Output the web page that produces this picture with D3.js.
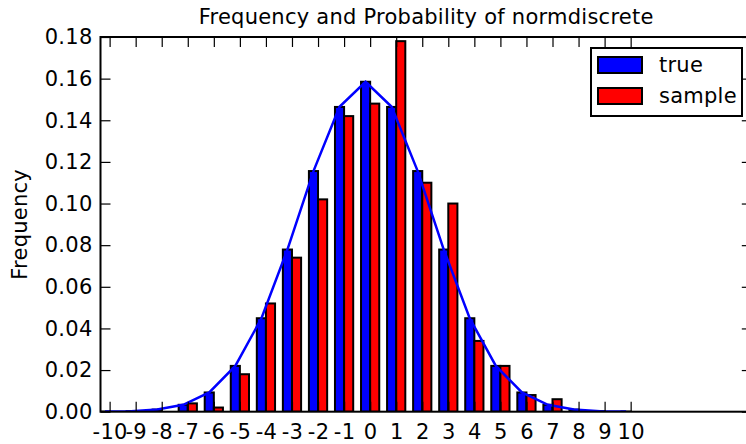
<!DOCTYPE html>
<html>
<head>
<meta charset="utf-8">
<script src="https://cdn.jsdelivr.net/npm/d3@7"></script>
<style>
  body { margin: 0; background: #fff; }
  svg { display: block; }
</style>
</head>
<body>
<div id="my_dataviz"></div>
<script>
// integer support points of the distribution
var grid = [-10, -9, -8, -7, -6, -5, -4, -3, -2, -1, 0, 1, 2, 3, 4, 5, 6, 7, 8, 9, 10];

// true probabilities of normdiscrete
var trueFreq = [0.000059, 0.000265, 0.00101, 0.00331, 0.00924, 0.0220, 0.0449, 0.0779, 0.1156, 0.1464, 0.1585,
  0.1464, 0.1156, 0.0779, 0.0449, 0.0220, 0.00924, 0.00331, 0.00101, 0.000265, 0.000059];

// sample frequencies (500 draws)
var sampleFreq = [0, 0, 0, 0.004, 0.002, 0.018, 0.052, 0.074, 0.102, 0.142, 0.148,
  0.178, 0.110, 0.100, 0.034, 0.022, 0.008, 0.006, 0, 0, 0];

// normal pdf evaluated at the grid points
var normPdf = [0.000059, 0.000265, 0.00101, 0.00331, 0.00924, 0.0220, 0.0448, 0.0779, 0.1156, 0.1465, 0.1585,
  0.1465, 0.1156, 0.0779, 0.0448, 0.0220, 0.00924, 0.00331, 0.00101, 0.000265, 0.000059];

var yTicks = [0, 0.02, 0.04, 0.06, 0.08, 0.10, 0.12, 0.14, 0.16, 0.18];
var legendLabels = ["true", "sample"];

var barWidth = 0.35;

// set the dimensions and margins of the graph
var W = 746, H = 444;
var margin = { top: 37, left: 100.5 },
  width = 651.3,
  height = 374.7;

var svg = d3.select("#my_dataviz")
  .append("svg")
  .attr("width", W)
  .attr("height", H)
  .append("g")
  .attr("transform", "translate(" + margin.left + "," + margin.top + ")");

var x = d3.scaleLinear().domain([-10, 15]).range([0, width]);
var y = d3.scaleLinear().domain([0, 0.18]).range([height, 0]);

svg.append("clipPath").attr("id", "plotclip")
  .append("rect").attr("width", width).attr("height", height);

var plot = svg.append("g").attr("clip-path", "url(#plotclip)");

// blue bars: true probabilities
plot.selectAll(".barTrue")
  .data(grid)
  .enter().append("rect")
  .attr("class", "barTrue")
  .attr("x", function (d) { return x(d); })
  .attr("width", function (d) { return x(d + barWidth) - x(d); })
  .attr("y", function (d, i) { return y(trueFreq[i]); })
  .attr("height", function (d, i) { return y(0) - y(trueFreq[i]); })
  .style("fill", "#0000ff")
  .style("stroke", "#000")
  .style("stroke-width", 2);

// red bars: sample frequencies
plot.selectAll(".barSample")
  .data(grid)
  .enter().append("rect")
  .attr("class", "barSample")
  .attr("x", function (d) { return x(d + barWidth); })
  .attr("width", function (d) { return x(d + 2 * barWidth) - x(d + barWidth); })
  .attr("y", function (d, i) { return y(sampleFreq[i]); })
  .attr("height", function (d, i) { return y(0) - y(sampleFreq[i]); })
  .style("fill", "#ff0000")
  .style("stroke", "#000")
  .style("stroke-width", 2);

// normal pdf line through the centre of the blue bars
plot.append("path")
  .datum(grid)
  .attr("d", d3.line()
    .x(function (d) { return x(d + barWidth / 2); })
    .y(function (d, i) { return y(normPdf[i]); }))
  .style("fill", "none")
  .style("stroke", "#0000ff")
  .style("stroke-width", 2.5);

// axes with inward ticks on all four sides
var tickLen = 10;
var xTickPos = grid.map(function (d) { return d + barWidth; });

svg.append("g")
  .attr("transform", "translate(0," + height + ")")
  .call(d3.axisBottom(x).tickValues(xTickPos).tickSizeInner(-tickLen).tickSizeOuter(0)
    .tickPadding(12).tickFormat(function (d, i) { return grid[i]; }))
  .call(function (g) { g.select(".domain").remove(); })
  .selectAll("text").attr("dy", "0.71em");

svg.append("g")
  .call(d3.axisTop(x).tickValues(xTickPos).tickSizeInner(-tickLen).tickSizeOuter(0).tickFormat(""))
  .call(function (g) { g.select(".domain").remove(); });

svg.append("g")
  .call(d3.axisLeft(y).tickValues(yTicks).tickSizeInner(-tickLen).tickSizeOuter(0)
    .tickPadding(8).tickFormat(d3.format(".2f")))
  .call(function (g) { g.select(".domain").remove(); });

svg.append("g")
  .attr("transform", "translate(" + width + ",0)")
  .call(d3.axisRight(y).tickValues(yTicks).tickSizeInner(-tickLen).tickSizeOuter(0).tickFormat(""))
  .call(function (g) { g.select(".domain").remove(); });

svg.selectAll(".tick line").style("stroke", "#000").style("stroke-width", 1.2);

// axes frame
svg.append("rect")
  .attr("width", width)
  .attr("height", height)
  .style("fill", "none")
  .style("stroke", "#000")
  .style("stroke-width", 2);

// title and y label
svg.append("text")
  .attr("x", width / 2)
  .attr("y", 24 - margin.top)
  .attr("text-anchor", "middle")
  .text("Frequency and Probability of normdiscrete");

svg.append("text")
  .attr("transform", "translate(" + (27 - margin.left) + "," + (height / 2) + ") rotate(-90)")
  .attr("text-anchor", "middle")
  .text("Frequency");

// legend
var legend = svg.append("g")
  .attr("transform", "translate(" + (591 - margin.left) + "," + (48 - margin.top) + ")");

legend.append("rect")
  .attr("width", 151)
  .attr("height", 68)
  .style("fill", "#fff")
  .style("stroke", "#000")
  .style("stroke-width", 2);

var legendColors = ["#0000ff", "#ff0000"];
legendLabels.forEach(function (label, i) {
  legend.append("rect")
    .attr("x", 7)
    .attr("y", 9 + i * 31)
    .attr("width", 44)
    .attr("height", 16)
    .style("fill", legendColors[i])
    .style("stroke", "#000")
    .style("stroke-width", 2);
  legend.append("text")
    .attr("x", 68)
    .attr("y", 24 + i * 31)
    .text(label);
});

// all text in one face and size
svg.selectAll("text")
  .style("font-family", "'DejaVu Sans'")
  .style("font-size", "21px")
  .style("letter-spacing", "0.25px")
  .style("fill", "#000");
</script>
</body>
</html>
